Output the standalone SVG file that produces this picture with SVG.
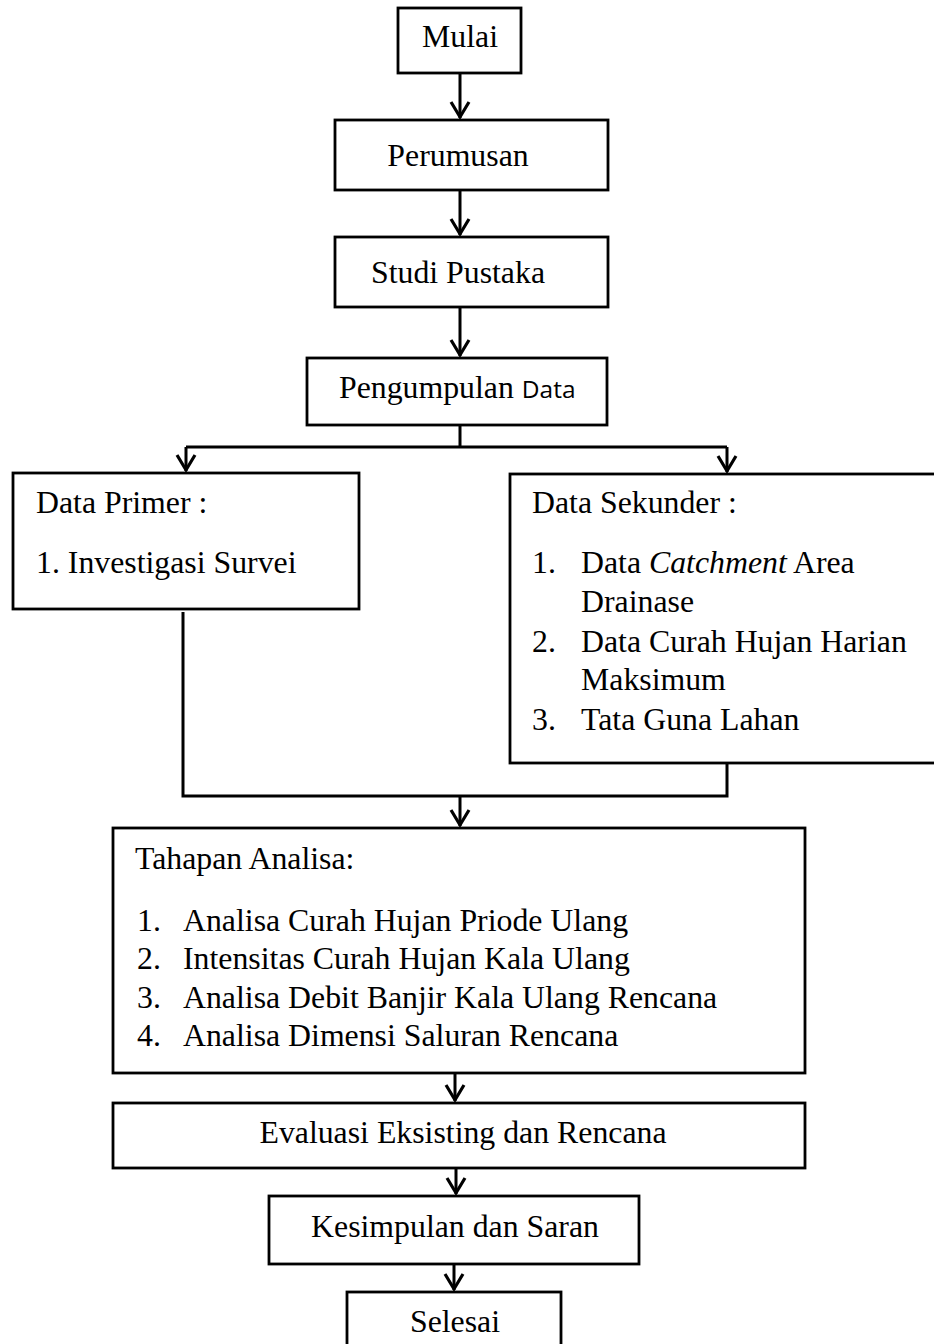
<svg xmlns="http://www.w3.org/2000/svg" width="934" height="1344" viewBox="0 0 934 1344">
<defs>
<style>
.box{fill:#fff;stroke:#000;stroke-width:2.8}
.t{font-family:"Liberation Serif","Times New Roman",serif;font-size:31.8px;fill:#000}
.c{text-anchor:middle}
.ln{fill:none;stroke:#000;stroke-width:3}
</style>
<marker id="ah" markerUnits="userSpaceOnUse" markerWidth="40" markerHeight="40" viewBox="-20 -20 40 40" refX="0" refY="0" orient="auto">
<path d="M-16,-9 L-1,0 L-16,9" fill="none" stroke="#000" stroke-width="3.2"/>
</marker>
</defs>
<rect width="934" height="1344" fill="#fff"/>
<g id="connectors">
<line class="ln" x1="460" y1="73" x2="460" y2="118" marker-end="url(#ah)"/>
<line class="ln" x1="460" y1="190" x2="460" y2="235" marker-end="url(#ah)"/>
<line class="ln" x1="460" y1="307" x2="460" y2="356" marker-end="url(#ah)"/>
<polyline class="ln" points="460,425 460,447"/>
<polyline class="ln" points="186,447 727,447"/>
<line class="ln" x1="186" y1="447" x2="186" y2="471" marker-end="url(#ah)"/>
<line class="ln" x1="727" y1="447" x2="727" y2="472" marker-end="url(#ah)"/>
<polyline class="ln" points="183,612 183,796 727,796 727,763"/>
<line class="ln" x1="460" y1="796" x2="460" y2="826" marker-end="url(#ah)"/>
<line class="ln" x1="455" y1="1073" x2="455" y2="1101" marker-end="url(#ah)"/>
<line class="ln" x1="456" y1="1168" x2="456" y2="1194" marker-end="url(#ah)"/>
<line class="ln" x1="454" y1="1264" x2="454" y2="1290" marker-end="url(#ah)"/>
</g>
<g id="mulai">
<rect class="box" x="398" y="8" width="123" height="65"/>
<text class="t c" x="460" y="47">Mulai</text>
</g>
<g id="perumusan">
<rect class="box" x="335" y="120" width="273" height="70"/>
<text class="t c" x="458" y="166">Perumusan</text>
</g>
<g id="studi">
<rect class="box" x="335" y="237" width="273" height="70"/>
<text class="t c" x="458" y="283">Studi Pustaka</text>
</g>
<g id="pengumpulan">
<rect class="box" x="307" y="358" width="300" height="67"/>
<text class="t" x="339" y="398">Pengumpulan <tspan style="font-family:'Open Sans','Noto Sans',sans-serif;font-size:24.5px">Data</tspan></text>
</g>
<g id="primer">
<rect class="box" x="13" y="473" width="346" height="136"/>
<text class="t" x="36" y="513">Data Primer :</text>
<text class="t" x="36" y="573">1. Investigasi Survei</text>
</g>
<g id="sekunder">
<rect class="box" x="510" y="474" width="440" height="289"/>
<text class="t" x="532" y="513">Data Sekunder :</text>
<text class="t" x="532" y="573">1.</text>
<text class="t" x="581" y="573">Data <tspan font-style="italic">Catchment</tspan> Area</text>
<text class="t" x="581" y="612">Drainase</text>
<text class="t" x="532" y="652">2.</text>
<text class="t" x="581" y="652">Data Curah Hujan Harian</text>
<text class="t" x="581" y="690">Maksimum</text>
<text class="t" x="532" y="730">3.</text>
<text class="t" x="581" y="730">Tata Guna Lahan</text>
</g>
<g id="tahapan">
<rect class="box" x="113" y="828" width="692" height="245"/>
<text class="t" x="135" y="869">Tahapan Analisa:</text>
<text class="t" x="137" y="931">1.</text>
<text class="t" x="183" y="931">Analisa Curah Hujan Priode Ulang</text>
<text class="t" x="137" y="969">2.</text>
<text class="t" x="183" y="969">Intensitas Curah Hujan Kala Ulang</text>
<text class="t" x="137" y="1008">3.</text>
<text class="t" x="183" y="1008">Analisa Debit Banjir Kala Ulang Rencana</text>
<text class="t" x="137" y="1046">4.</text>
<text class="t" x="183" y="1046">Analisa Dimensi Saluran Rencana</text>
</g>
<g id="evaluasi">
<rect class="box" x="113" y="1103" width="692" height="65"/>
<text class="t c" x="463" y="1143">Evaluasi Eksisting dan Rencana</text>
</g>
<g id="kesimpulan">
<rect class="box" x="269" y="1196" width="370" height="68"/>
<text class="t c" x="455" y="1237">Kesimpulan dan Saran</text>
</g>
<g id="selesai">
<rect class="box" x="347" y="1292" width="214" height="70"/>
<text class="t c" x="455" y="1332">Selesai</text>
</g>
</svg>
